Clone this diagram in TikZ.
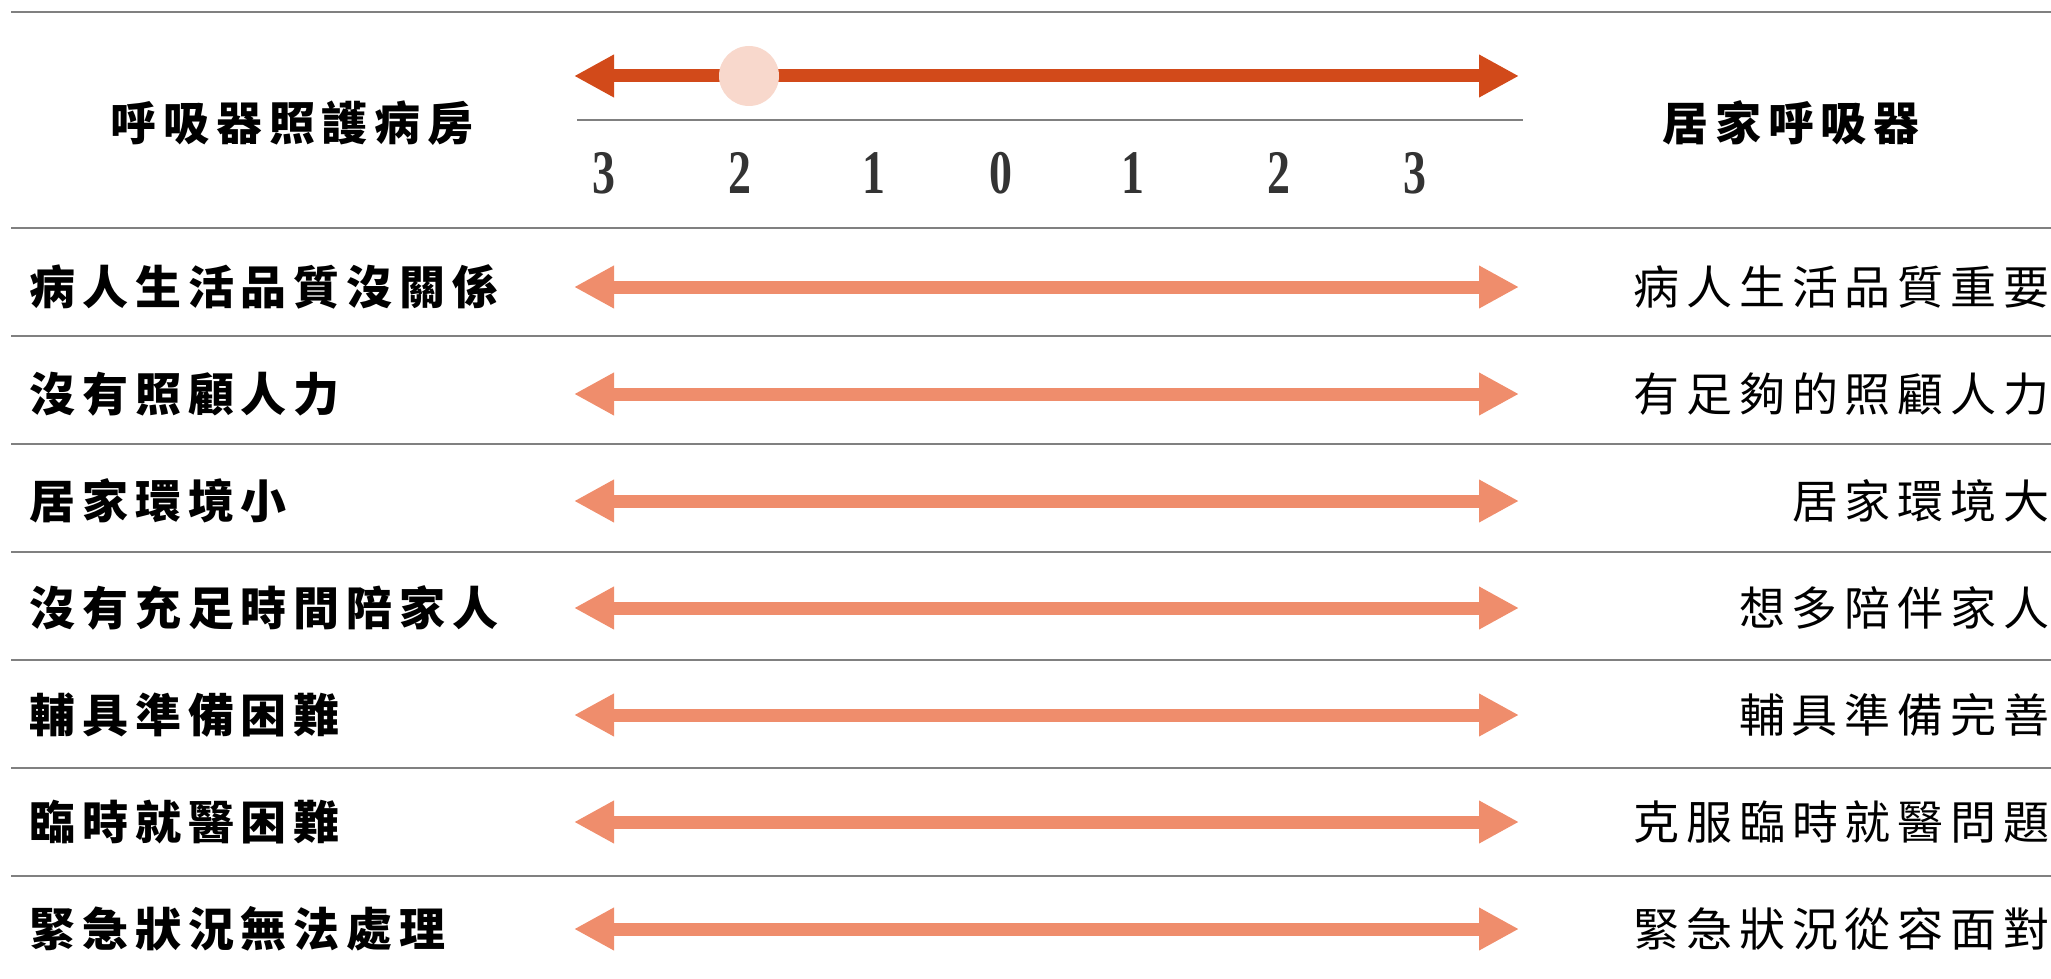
\documentclass[tikz,border=0pt]{standalone}
\usepackage{fontspec}
\usepackage{graphicx}
\setmainfont{Liberation Serif}
\newfontfamily\cjk{Noto Sans CJK TC}[LetterSpace=15]
\usetikzlibrary{arrows.meta}

\definecolor{darkorange}{HTML}{D24A1A}
\definecolor{salmon}{HTML}{EF8D6C}
\definecolor{peach}{HTML}{F8D8CC}
\definecolor{rulegray}{HTML}{808080}
\definecolor{numgray}{HTML}{333333}

\tikzset{
  rowline/.style={draw=rulegray, line width=1.2pt},
  scaleline/.style={draw=rulegray, line width=0.8pt},
  twoway/.style={{Triangle[length=20pt,width=20pt]}-{Triangle[length=20pt,width=20pt]}, line width=6.5pt},
  title/.style={font=\cjk\bfseries\fontsize{23}{23}\selectfont, inner sep=0pt},
  lefttext/.style={anchor=west, font=\cjk\bfseries\fontsize{23}{23}\selectfont, inner sep=0pt},
  righttext/.style={anchor=east, font=\cjk\fontsize{23}{23}\selectfont, inner sep=0pt},
  tick/.style={font=\bfseries\fontsize{31}{31}\selectfont, text=numgray, inner sep=0pt},
  marker/.style={circle, fill=peach, minimum size=30pt, inner sep=0pt}
}

\begin{document}
\begin{tikzpicture}[x=0.5pt, y=-0.5pt]
\useasboundingbox (0,0) rectangle (2051,979);

% rules between rows
\foreach \y in {12,228,336,444,552,660,768,876}
{
	\draw[rowline] (11,\y)--(2051,\y);
}

% header
\node[title] (lefthead) at (292,123) {呼吸器照護病房};
\node[title] (righthead) at (1791,123) {居家呼吸器};
\coordinate (s0) at (574,76);
\coordinate (s1) at (1519,76);
\draw[twoway, darkorange] (s0)--(s1);
\node[marker] (pick) at (749,76) {};
\draw[scaleline] (577,120)--(1523,120);
\foreach \x/\n [count=\k] in {604/3,740/2,874/1,1001/0,1133/1,1279/2,1415/3}
{
	\node[tick] (t\k) at (\x,173) {\scalebox{0.74}[1]{\n}};
}

% rows
\foreach \lt/\rt [count=\i] in {病人生活品質沒關係/病人生活品質重要,沒有照顧人力/有足夠的照顧人力,居家環境小/居家環境大,沒有充足時間陪家人/想多陪伴家人,輔具準備困難/輔具準備完善,臨時就醫困難/克服臨時就醫問題,緊急狀況無法處理/緊急狀況從容面對}
{
	\pgfmathsetmacro\yy{287+107*(\i-1)}
	\node[lefttext] (l\i) at (29,\yy) {\lt};
	\node[righttext] (r\i) at (2050,\yy) {\rt};
	\coordinate (a\i) at (574,\yy);
	\coordinate (b\i) at (1519,\yy);
	\draw[twoway, salmon] (a\i)--(b\i);
}
\end{tikzpicture}
\end{document}
